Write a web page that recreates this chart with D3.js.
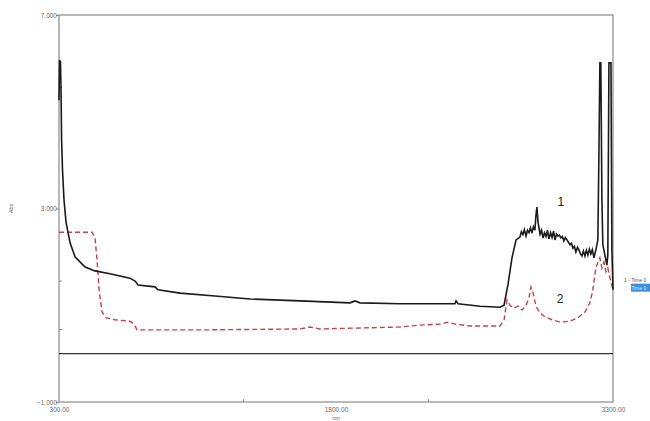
<!DOCTYPE html>
<html>
<head>
<meta charset="utf-8">
<script src="https://cdn.jsdelivr.net/npm/d3@7"></script>
<style>
  body { margin: 0; background: #fff; }
  text { font-family: "Liberation Sans", Arial, sans-serif; }
</style>
</head>
<body>
<div id="plot"></div>
<script>
// Wavenumber / absorbance readings, series 1 (solid) and 2 (dashed)
const x1 = [300, 303, 308, 311, 314, 319, 327, 338, 360, 387, 441, 495, 576, 684, 712, 728, 820, 836, 955, 1145, 1334, 1605, 1876, 1903, 1930, 2147, 2363, 2444, 2450, 2461, 2580, 2688, 2710, 2731, 2753, 2775, 2796, 2804, 2812, 2820, 2829, 2837, 2845, 2853, 2861, 2869, 2877, 2883, 2888, 2894, 2905, 2913, 2921, 2929, 2937, 2945, 2953, 2962, 2970, 2978, 2986, 2994, 3002, 3010, 3018, 3026, 3034, 3042, 3051, 3059, 3067, 3075, 3083, 3091, 3099, 3108, 3116, 3124, 3132, 3140, 3148, 3156, 3164, 3172, 3180, 3188, 3197, 3207, 3218, 3224, 3229, 3234, 3240, 3245, 3256, 3267, 3272, 3278, 3289, 3294, 3300];
const y1 = [5.24, 6.07, 6.03, 5.45, 4.42, 3.80, 3.18, 2.72, 2.29, 2.00, 1.79, 1.71, 1.65, 1.56, 1.50, 1.42, 1.38, 1.32, 1.25, 1.19, 1.13, 1.09, 1.05, 1.09, 1.05, 1.03, 1.03, 1.03, 1.09, 1.03, 0.98, 0.96, 1.00, 1.42, 1.98, 2.35, 2.41, 2.52, 2.46, 2.56, 2.43, 2.55, 2.50, 2.60, 2.49, 2.62, 2.55, 2.87, 3.03, 2.72, 2.47, 2.55, 2.39, 2.50, 2.42, 2.55, 2.37, 2.50, 2.40, 2.53, 2.35, 2.47, 2.43, 2.45, 2.39, 2.42, 2.33, 2.40, 2.35, 2.30, 2.25, 2.28, 2.18, 2.22, 2.10, 2.20, 2.14, 2.06, 2.02, 2.12, 2.02, 2.14, 2.04, 2.16, 2.06, 2.15, 1.98, 2.14, 2.35, 4.21, 6.01, 6.01, 3.18, 2.25, 2.04, 1.83, 2.04, 6.01, 6.01, 2.14, 1.32];

const x2 = [300, 479, 495, 506, 517, 533, 555, 603, 684, 707, 722, 1063, 1605, 1659, 1713, 2147, 2255, 2363, 2406, 2444, 2526, 2688, 2710, 2726, 2742, 2764, 2786, 2807, 2829, 2845, 2856, 2867, 2883, 2905, 2932, 2970, 3013, 3067, 3110, 3148, 3175, 3191, 3207, 3218, 3229, 3240, 3251, 3262, 3272, 3283, 3300];
const y2 = [2.51, 2.51, 2.39, 1.94, 1.32, 0.86, 0.74, 0.70, 0.67, 0.61, 0.49, 0.49, 0.51, 0.55, 0.51, 0.55, 0.59, 0.61, 0.65, 0.61, 0.57, 0.57, 0.69, 1.11, 1.00, 0.94, 0.98, 0.90, 1.00, 1.15, 1.38, 1.26, 0.98, 0.84, 0.76, 0.70, 0.65, 0.67, 0.74, 0.86, 1.05, 1.32, 1.77, 1.89, 1.98, 1.77, 1.89, 1.69, 1.77, 1.57, 1.32];

const xTicks = [300, 1800, 3300];
const yTicks = [7, 3, -1];
const legendLabels = ["1 - Time 0", "2 - Time 0"];

const w = 650, h = 421;
const margin = { left: 59, right: 37, top: 15, bottom: 19 };

const svg = d3.select("#plot").append("svg")
    .attr("width", w)
    .attr("height", h);

const x = d3.scaleLinear().domain([300, 3300]).range([margin.left, w - margin.right]);
const y = d3.scaleLinear().domain([-1, 7]).range([h - margin.bottom, margin.top]);

//Frame
svg.append("rect")
    .attr("x", x(300)).attr("y", y(7))
    .attr("width", x(3300) - x(300))
    .attr("height", y(-1) - y(7))
    .attr("fill", "none")
    .attr("stroke", "#8a8a8a")
    .attr("stroke-width", 1.2);

//Zero line
svg.append("line")
    .attr("x1", x(300)).attr("x2", x(3300))
    .attr("y1", y(0)).attr("y2", y(0))
    .attr("stroke", "#333").attr("stroke-width", 1.2);

//Axes: labels only at the ends and the middle
const yAxis = d3.axisLeft(y).tickValues(yTicks).tickFormat(d3.format(".3f")).tickSize(3);
svg.append("g")
    .attr("transform", "translate(" + x(300) + ",0)")
    .call(yAxis)
    .call(g => g.select(".domain").remove())
    .call(g => g.selectAll("line").attr("stroke", "#8a8a8a"))
    .call(g => g.selectAll("text").attr("font-size", 6.5).attr("fill", "#666").attr("x", -2));

//Minor y ticks
svg.append("g").selectAll("line")
    .data([5.5, 1.5, 0.5])
    .join("line")
    .attr("x1", x(300)).attr("x2", x(300) + 3)
    .attr("y1", d => y(d)).attr("y2", d => y(d))
    .attr("stroke", "#8a8a8a");

const xAxis = d3.axisBottom(x).tickValues(xTicks).tickFormat(d3.format(".2f")).tickSize(0).tickPadding(5);
svg.append("g")
    .attr("transform", "translate(0," + y(-1) + ")")
    .call(xAxis)
    .call(g => g.select(".domain").remove())
    .call(g => g.selectAll("text").attr("font-size", 6.5).attr("fill", "#666"));

//Minor x ticks
svg.append("g").selectAll("line")
    .data([1300, 2300])
    .join("line")
    .attr("x1", d => x(d)).attr("x2", d => x(d))
    .attr("y1", y(-1)).attr("y2", y(-1) - 3)
    .attr("stroke", "#8a8a8a");

//Axis titles
svg.append("text")
    .attr("transform", "translate(13," + y(3) + ") rotate(-90)")
    .attr("text-anchor", "middle")
    .attr("font-size", 5.5).attr("fill", "#666")
    .text("Abs");
svg.append("text")
    .attr("x", x(1800)).attr("y", h - 1)
    .attr("text-anchor", "middle")
    .attr("font-size", 5.5).attr("fill", "#666")
    .text("nm");

//Lines
const line = d3.line().x(d => x(d[0])).y(d => y(d[1]));

svg.append("path")
    .datum(d3.zip(x2, y2))
    .attr("d", line)
    .attr("fill", "none")
    .attr("stroke", "#c4424c")
    .attr("stroke-width", 1.4)
    .attr("stroke-dasharray", "5,3");

svg.append("path")
    .datum(d3.zip(x1, y1))
    .attr("d", line)
    .attr("fill", "none")
    .attr("stroke", "#1a1a1a")
    .attr("stroke-width", 1.6);

//Curve numbers
svg.append("text").attr("x", x(3000)).attr("y", y(3.05))
    .attr("font-size", 12).attr("fill", "#222").text("1");
svg.append("text").attr("x", x(2995)).attr("y", y(1.05))
    .attr("font-size", 12).attr("fill", "#222").text("2");

//Legend, cut by the page edge
const leg = svg.append("g")
    .attr("transform", "translate(" + (x(3300) + 10) + "," + y(1.57) + ")");
leg.append("rect")
    .attr("x", 8).attr("y", 6)
    .attr("width", 30).attr("height", 8)
    .attr("fill", "#3b8fe0");
leg.selectAll("text")
    .data(legendLabels)
    .join("text")
    .attr("x", 1)
    .attr("y", (d, i) => 4 + i * 8)
    .attr("font-size", 5)
    .attr("fill", (d, i) => i === 1 ? "#dfeaf7" : "#555")
    .text(d => d);
</script>
</body>
</html>
